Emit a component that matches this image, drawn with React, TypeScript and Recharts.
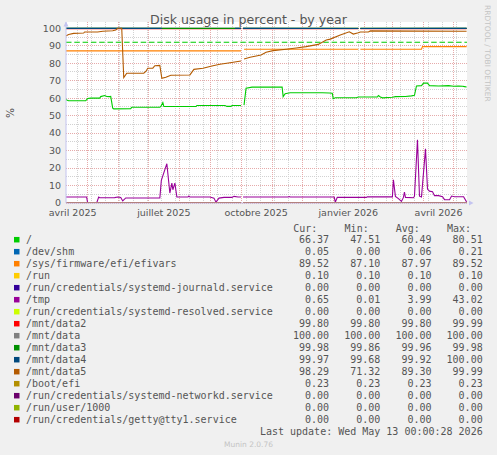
import React from 'react';
import {
  LineChart,
  Line,
  XAxis,
  YAxis,
  ReferenceLine,
  ReferenceArea,
  ReferenceDot,
} from 'recharts';

// x values are days counted from 1 April 2025
const X_MIN = 8.4;
const X_MAX = 408.4;
const Y_MAX = 103.6;

const TICK_DAYS = [15, 106, 198, 290, 380];
const TICK_LABELS = ['avril 2025', 'juillet 2025', 'octobre 2025', 'janvier 2026', 'avril 2026'];
const MONTH_DAYS = [30, 61, 91, 122, 153, 183, 214, 244, 275, 306, 334, 365, 395];
const MINOR_DAYS = [
  20, 34, 48, 62, 76, 90, 104, 118, 132, 146, 160, 174, 188, 202, 216, 230, 244, 258, 272, 286,
  300, 314, 328, 342, 356, 370, 384, 398,
];
const Y_TICKS = [0, 10, 20, 30, 40, 50, 60, 70, 80, 90, 100];
const Y_MINOR = [5, 15, 25, 35, 45, 55, 65, 75, 85, 95];
const ROOT_WARNING = 92;

type Pair = [number, number | null];

const ROOT: Pair[] = [
  [8, 59.6], [9, 59.0], [11, 58.5], [28, 58.5], [30, 59.8], [33, 60.0], [42, 60.0], [43, 60.9],
  [47, 61.5], [49, 61.0], [52, 60.9], [53, 61.0], [55, 54.3], [56, 53.9], [73, 54.0], [74, 54.8],
  [102, 54.8], [103, 55.3], [105, 57.5], [106, 55.2], [138, 55.2], [139, 55.8], [167, 55.8],
  [169, 55.3], [173, 55.3], [174, 55.8], [183, 55.8], [184, null], [186, 56.0], [188, 65.7],
  [194, 66.3], [224, 66.3], [225, 60.9], [227, 62.6], [232, 63.1], [264, 63.1], [271, 63.0],
  [274, 62.8], [275, 59.7], [277, 60.2], [298, 60.2], [300, 60.7], [319, 60.7], [320, 61.5],
  [322, 60.7], [324, 60.2], [334, 60.5], [337, 60.9], [347, 61.0], [353, 61.3], [356, 61.6],
  [358, 67.0], [363, 67.2], [365, 68.6], [369, 68.6], [371, 67.2], [380, 67.0], [390, 67.2],
  [395, 66.8], [400, 67.0], [404, 66.8], [406, 66.6], [408, 66.4],
];
const DEV_SHM: Pair[] = [[8, 0.05], [183, 0.05], [184, null], [185, 0.06], [408, 0.05]];
const EFIVARS: Pair[] = [
  [8, 87.1], [183, 87.1], [184, null], [186, 88.0], [300, 88.0], [301, null], [302, 88.0],
  [363, 88.0], [364, 89.5], [408, 89.52],
];
const RUN: Pair[] = [[8, 0.1], [183, 0.1], [184, null], [185, 0.1], [408, 0.1]];
const JOURNALD: Pair[] = [[8, 0], [183, 0], [184, null], [185, 0], [408, 0]];
const TMP: Pair[] = [
  [8, 3.4], [29, 3.4], [30, 0], [39, 0], [41, 3.4], [42, 3.0], [57, 3.1], [60, 3.4], [63, 3.2],
  [65, 1.2], [68, 2.9], [102, 2.9], [103.5, 13.0], [109, 22.5], [112, 5.7], [114, 11.4],
  [115, 7.6], [117, 11.4], [119, 3.4], [130, 3.4], [131, 4.0], [132, 3.4], [152, 3.4],
  [156, 2.8], [158, 0.5], [161, 2.8], [166, 3.2], [174, 3.2], [176, 3.8], [180, 3.4],
  [183, 3.4], [184, null], [185, 3.4], [230, 3.4], [231, 3.7], [232, 3.4], [276, 3.4],
  [277, 0.4], [279, 3.2], [308, 3.2], [309, 3.5], [334, 3.5], [335, 13.3], [337, 3.8],
  [340, 2.5], [343, 0.9], [345, 3.2], [346, 6.3], [347, 3.2], [355, 3.0], [356, 3.9],
  [359, 36.2], [361, 3.9], [363, 3.4], [367, 31.0], [369, 8.0], [371, 6.8], [374, 6.5],
  [376, 4.2], [380, 4.2], [384, 3.6], [386, 1.9], [391, 1.9], [393, 4.0], [396, 3.6],
  [405, 3.6], [408, 0.65],
];
const RESOLVED: Pair[] = [[8, 0], [183, 0], [184, null], [185, 0], [408, 0]];
const DATA2: Pair[] = [[8, 99.8], [183, 99.8], [184, null], [185, 99.8], [300, 99.8], [301, null], [302, 99.8], [408, 99.8]];
const DATA: Pair[] = [[8, 100], [183, 100], [184, null], [185, 100], [300, 100], [301, null], [302, 100], [408, 100]];
const DATA3: Pair[] = [[8, 99.97], [183, 99.96], [184, null], [185, 99.96], [300, 99.96], [301, null], [302, 99.98], [408, 99.98]];
const DATA4: Pair[] = [
  [8, 99.95], [104, 99.95], [105, null], [177, 99.95], [183, 99.95], [184, null], [185, 99.94],
  [300, 99.92], [301, null], [302, 99.92], [408, 99.97],
];
const DATA5: Pair[] = [
  [8, 95.6], [11, 96.4], [16, 97.1], [26, 97.3], [27, 97.9], [40, 97.9], [45, 98.3], [55, 98.6],
  [58, 99.0], [60, 100], [64, 100], [66, 71.8], [69, 74.3], [86, 74.3], [88, 75.3], [90, 77.1],
  [95, 77.2], [97, 78.6], [102, 78.8], [104, 71.4], [108, 72.0], [113, 73.1], [132, 73.3],
  [136, 76.5], [145, 77.1], [155, 78.6], [162, 79.4], [172, 80.3], [183, 81.3], [184, null],
  [186, 82.4], [192, 83.4], [203, 84.7], [208, 86.3], [215, 87.2], [228, 88.0], [238, 88.7],
  [248, 89.5], [260, 90.8], [268, 93.3], [272, 93.8], [282, 96.2], [291, 98.0], [295, 96.7],
  [300, 97.5], [302, 97.9], [310, 97.9], [312, 98.5], [408, 98.3],
];
const BOOT_EFI: Pair[] = [[8, 0.23], [183, 0.23], [184, null], [185, 0.23], [408, 0.23]];
const NETWORKD: Pair[] = [[8, 0], [183, 0], [184, null], [185, 0], [408, 0]];
const USER_1000: Pair[] = [[8, 0], [183, 0], [184, null], [185, 0], [408, 0]];
const GETTY: Pair[] = [[8, 0], [183, 0], [184, null], [185, 0], [408, 0]];

const NAMES = [
  '/', '/dev/shm', '/sys/firmware/efi/efivars', '/run', '/run/credentials/systemd-journald.service',
  '/tmp', '/run/credentials/systemd-resolved.service', '/mnt/data2', '/mnt/data', '/mnt/data3',
  '/mnt/data4', '/mnt/data5', '/boot/efi', '/run/credentials/systemd-networkd.service',
  '/run/user/1000', '/run/credentials/getty@tty1.service',
];
const COLORS = [
  '#00cc00', '#0066b3', '#ff8000', '#ffcc00', '#330099', '#990099', '#ccff00', '#ff0000',
  '#808080', '#008f00', '#00487d', '#b35a00', '#b38f00', '#6b006b', '#8fb300', '#b30000',
];
const SERIES = [
  ROOT, DEV_SHM, EFIVARS, RUN, JOURNALD, TMP, RESOLVED, DATA2, DATA, DATA3, DATA4, DATA5,
  BOOT_EFI, NETWORKD, USER_1000, GETTY,
];
const CUR = [66.37, 0.05, 89.52, 0.1, 0, 0.65, 0, 99.8, 100, 99.98, 99.97, 98.29, 0.23, 0, 0, 0];
const MIN = [47.51, 0, 87.1, 0.1, 0, 0.01, 0, 99.8, 100, 99.86, 99.68, 71.32, 0.23, 0, 0, 0];
const AVG = [60.49, 0.06, 87.97, 0.1, 0, 3.99, 0, 99.8, 100, 99.96, 99.92, 89.3, 0.23, 0, 0, 0];
const MAX = [80.51, 0.21, 89.52, 0.1, 0, 43.02, 0, 99.99, 100, 99.98, 100, 99.99, 0.23, 0, 0, 0];
const LAST_UPDATE = 'Last update: Wed May 13 00:00:28 2026';

const toRows = (s: Pair[]) => s.map(([d, v]) => ({ d, v }));

const MAJOR = '#e6aaaa';
const MINOR = '#d2d2d2';
const AXIS = '#c4c4f0';
const TEXT = '#555555';

const upArrow = (p: any) => (
  <path d={`M${p.cx - 2.5},${p.cy + 4.5} L${p.cx + 2.5},${p.cy + 4.5} L${p.cx},${p.cy - 0.5} Z`} fill={AXIS} />
);
const rightArrow = (p: any) => (
  <path d={`M${p.cx + 2},${p.cy - 2.4} L${p.cx + 2},${p.cy + 2.4} L${p.cx + 6.5},${p.cy} Z`} fill={AXIS} />
);

export default function App() {
  const mono = '"DejaVu Sans Mono", monospace';
  const cols = [329, 380.3, 431.5, 482.7];
  return (
    <div
      style={{
        position: 'absolute',
        left: 0,
        top: 0,
        width: 497,
        height: 455,
        background: '#f0f0f0',
        overflow: 'hidden',
        fontFamily: '"DejaVu Sans", sans-serif',
      }}
    >
      <div style={{ position: 'absolute', left: 0, top: 0 }}>
        <LineChart width={497} height={230} margin={{ top: 22, right: 30, bottom: 7, left: 26 }}>
          <XAxis
            type="number"
            dataKey="d"
            domain={[X_MIN, X_MAX]}
            allowDataOverflow
            ticks={TICK_DAYS}
            tickFormatter={(v: number) => TICK_LABELS[TICK_DAYS.indexOf(v)] ?? ''}
            height={20}
            axisLine={{ stroke: AXIS }}
            tickLine={false}
            tickSize={0}
            tickMargin={6}
            tick={{ fill: TEXT, fontSize: 9.5, fontFamily: '"DejaVu Sans", sans-serif' }}
          />
          <YAxis
            type="number"
            domain={[0, Y_MAX]}
            allowDataOverflow
            ticks={Y_TICKS}
            width={40}
            axisLine={{ stroke: AXIS }}
            tickLine={false}
            tickSize={0}
            tickMargin={5}
            tick={{ fill: TEXT, fontSize: 9.5, fontFamily: '"DejaVu Sans", sans-serif' }}
          />
          <ReferenceArea x1={X_MIN} x2={X_MAX} y1={0} y2={Y_MAX} fill="#ffffff" fillOpacity={1} stroke="none" />
          {Y_MINOR.map((y) => (
            <ReferenceLine key={`hy${y}`} y={y} stroke={MINOR} strokeDasharray="1 1" shapeRendering="crispEdges" />
          ))}
          {MINOR_DAYS.map((d) => (
            <ReferenceLine key={`vx${d}`} x={d} stroke={MINOR} strokeDasharray="1 1" shapeRendering="crispEdges" />
          ))}
          {Y_TICKS.map((y) => (
            <ReferenceLine key={`my${y}`} y={y} stroke={MAJOR} strokeDasharray="1 1" shapeRendering="crispEdges" />
          ))}
          {MONTH_DAYS.map((d) => (
            <ReferenceLine key={`mx${d}`} x={d} stroke={MAJOR} strokeDasharray="1 1" shapeRendering="crispEdges" />
          ))}
          <ReferenceLine y={ROOT_WARNING} stroke="#00cc00" strokeWidth={1.2} strokeDasharray="5.5 2.8" />
          {SERIES.map((s, i) => (
            <Line
              key={NAMES[i]}
              data={toRows(s)}
              dataKey="v"
              type="linear"
              stroke={COLORS[i]}
              strokeWidth={1.1}
              dot={false}
              activeDot={false}
              isAnimationActive={false}
            />
          ))}
          <ReferenceDot x={X_MIN} y={Y_MAX} r={0} ifOverflow="visible" shape={upArrow} />
          <ReferenceDot x={X_MAX} y={0} r={0} ifOverflow="visible" shape={rightArrow} />
        </LineChart>
      </div>
      <svg width={497} height={455} style={{ position: 'absolute', left: 0, top: 0, pointerEvents: 'none' }}>
        <text x={248.5} y={23.5} textAnchor="middle" fontSize={12.6} fill={TEXT}>
          Disk usage in percent - by year
        </text>
        <text transform="translate(14,113) rotate(-90)" textAnchor="middle" fontSize={10.5} fill={TEXT}>
          %
        </text>
        <text transform="translate(485,5) rotate(90)" fontSize={7.5} fill="#c4c4c4">
          RRDTOOL / TOBI OETIKER
        </text>
        {['Cur:', 'Min:', 'Avg:', 'Max:'].map((h, j) => (
          <text key={h} x={cols[j] - 35.7} y={231.8} fontSize={10} fontFamily={mono} fill={TEXT}>
            {h}
          </text>
        ))}
        {NAMES.map((name, i) => {
          const yc = 239.7 + 12 * i;
          const vals = [CUR[i], MIN[i], AVG[i], MAX[i]];
          return (
            <g key={name}>
              <rect x={14} y={yc - 2.75} width={5.5} height={5.5} fill={COLORS[i]} />
              <text x={26} y={yc + 3.5} fontSize={10} fontFamily={mono} fill={TEXT}>
                {name}
              </text>
              {vals.map((v, j) => (
                <text key={j} x={cols[j]} y={yc + 3.5} textAnchor="end" fontSize={10} fontFamily={mono} fill={TEXT}>
                  {v.toFixed(2)}
                </text>
              ))}
            </g>
          );
        })}
        <text x={482.7} y={435} textAnchor="end" fontSize={10} fontFamily={mono} fill={TEXT}>
          {LAST_UPDATE}
        </text>
        <text x={248.5} y={446.7} textAnchor="middle" fontSize={7.5} fill="#c4c4c4">
          Munin 2.0.76
        </text>
      </svg>
    </div>
  );
}
